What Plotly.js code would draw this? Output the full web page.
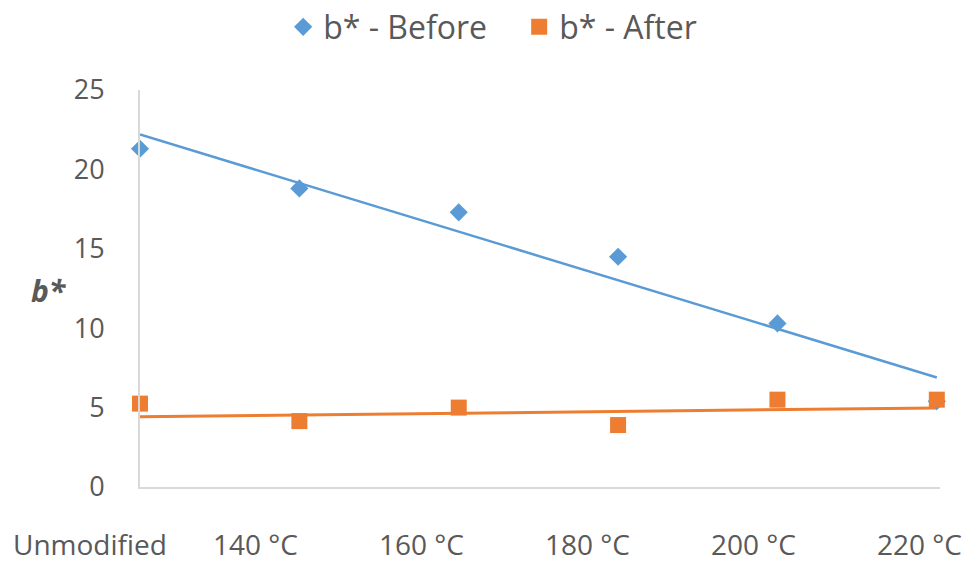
<!DOCTYPE html>
<html>
<head>
<meta charset="utf-8">
<script src="https://cdn.plot.ly/plotly-3.0.1.min.js"></script>
<style>html,body{margin:0;padding:0;background:#fff;}#chart{width:965px;height:562px;}</style>
</head>
<body>
<div id="chart"></div>
<script>
// ---- data ----
const categories = ["Unmodified", "140 °C", "160 °C", "180 °C", "200 °C", "220 °C"];
const before = [21.3, 18.8, 17.3, 14.5, 10.3, 5.4];
const after = [5.25, 4.15, 5.0, 3.9, 5.5, 5.5];
// linear trendline end values (at first and last category)
const trendBefore = [22.2, 6.9];
const trendAfter = [4.42, 4.98];
const yTicks = [0, 5, 10, 15, 20, 25];

const idx = categories.map((c, i) => i);
const ends = [0, categories.length - 1];
const blue = "#5B9BD5", orange = "#ED7D31", txt = "#595959";
const font = "Open Sans, sans-serif";

const traces = [
  {x: ends, y: trendBefore, mode: "lines", line: {color: blue, width: 2.5}, showlegend: false, hoverinfo: "skip", cliponaxis: false},
  {x: ends, y: trendAfter, mode: "lines", line: {color: orange, width: 3}, showlegend: false, hoverinfo: "skip", cliponaxis: false},
  {x: idx, y: before, name: "b* - Before", mode: "markers", cliponaxis: false, marker: {symbol: "diamond", size: 14, color: blue}},
  {x: idx, y: after, name: "b* - After", mode: "markers", cliponaxis: false, marker: {symbol: "square", size: 16, color: orange}}
];

const annotations = categories.map((c, i) => ({
  text: c, x: i, xref: "x", y: 0, yref: "paper", yanchor: "middle", xanchor: "center",
  yshift: -57, xshift: -50 + 6.6 * i, showarrow: false,
  font: {family: font, size: 28, color: txt}
}));
annotations.push({
  text: "<b><i>b*</i></b>", x: -0.114, xref: "paper", y: 0.496, yref: "paper",
  xanchor: "center", yanchor: "middle", showarrow: false,
  font: {family: font, size: 30, color: txt}
});

const layout = {
  width: 965, height: 562,
  margin: {l: 140, r: 25, t: 89.5, b: 74.5},
  paper_bgcolor: "#fff", plot_bgcolor: "#fff",
  font: {family: font, color: txt},
  showlegend: true,
  legend: {orientation: "h", xref: "container", yref: "container", x: 0.538, xanchor: "center",
           y: 0.952, yanchor: "middle", entrywidth: 191, entrywidthmode: "pixels",
           font: {family: font, size: 32, color: txt}, itemwidth: 30, tracegroupgap: 0},
  xaxis: {range: [0, 5.02], showgrid: false, zeroline: false, showticklabels: false, ticks: "",
          showline: true, linecolor: "#D9D9D9", linewidth: 2, fixedrange: true},
  yaxis: {range: [0, 25], tickvals: yTicks, showgrid: false, zeroline: false,
          showline: true, linecolor: "#D9D9D9", linewidth: 2,
          ticks: "outside", ticklen: 28, tickcolor: "rgba(0,0,0,0)",
          tickfont: {family: font, size: 27, color: txt}, fixedrange: true},
  annotations: annotations
};

Plotly.newPlot("chart", traces, layout, {displayModeBar: false, staticPlot: true});
</script>
</body>
</html>
